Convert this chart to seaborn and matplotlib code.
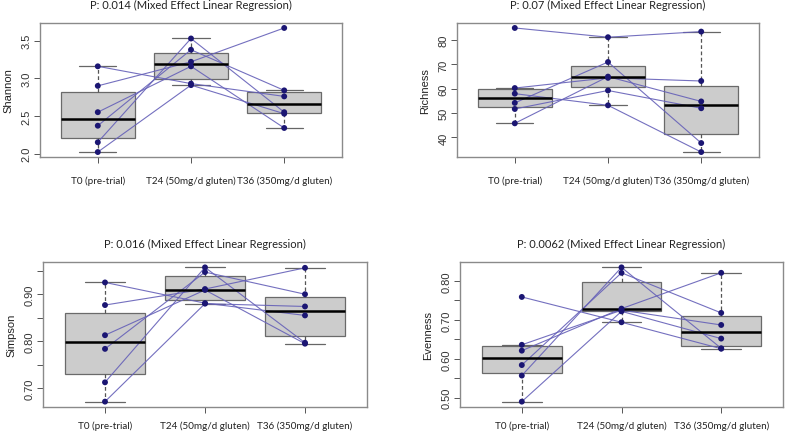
import numpy as np
import pandas as pd

import matplotlib.pyplot as plt
import matplotlib.transforms as mtransforms
import seaborn as sns

# values per subject at T0, T24, T36
times = ["T0 (pre-trial)", "T24 (50mg/d gluten)", "T36 (350mg/d gluten)"]
subjects = ["s1", "s2", "s3", "s4", "s5", "s6"]

shannon_t0 = [3.16, 2.90, 2.55, 2.37, 2.15, 2.02]
shannon_t24 = [2.93, 3.22, 3.16, 3.38, 3.53, 2.91]
shannon_t36 = [2.76, 3.67, 2.34, 2.84, 2.55, 2.53]

richness_t0 = [85.0, 60.3, 58.0, 54.2, 51.7, 45.8]
richness_t24 = [81.2, 64.5, 53.2, 71.0, 59.3, 65.0]
richness_t36 = [83.5, 63.2, 34.0, 37.7, 52.0, 54.8]

simpson_t0 = [0.925, 0.877, 0.813, 0.784, 0.713, 0.672]
simpson_t24 = [0.881, 0.911, 0.909, 0.947, 0.957, 0.880]
simpson_t36 = [0.855, 0.956, 0.795, 0.900, 0.797, 0.874]

evenness_t0 = [0.759, 0.636, 0.621, 0.584, 0.557, 0.490]
evenness_t24 = [0.694, 0.725, 0.729, 0.821, 0.835, 0.722]
evenness_t36 = [0.626, 0.687, 0.821, 0.718, 0.627, 0.652]

titles = ["P: 0.014 (Mixed Effect Linear Regression)",
          "P: 0.07 (Mixed Effect Linear Regression)",
          "P: 0.016 (Mixed Effect Linear Regression)",
          "P: 0.0062 (Mixed Effect Linear Regression)"]
ylabels = ["Shannon", "Richness", "Simpson", "Evenness"]
series = [(shannon_t0, shannon_t24, shannon_t36),
          (richness_t0, richness_t24, richness_t36),
          (simpson_t0, simpson_t24, simpson_t36),
          (evenness_t0, evenness_t24, evenness_t36)]

yticks = [[2.0, 2.5, 3.0, 3.5],
          [40, 50, 60, 70, 80],
          [0.70, 0.75, 0.80, 0.85, 0.90, 0.95],
          [0.50, 0.55, 0.60, 0.65, 0.70, 0.75, 0.80]]
ytick_labels = [["2.0", "2.5", "3.0", "3.5"],
                ["40", "50", "60", "70", "80"],
                ["0.70", "", "0.80", "", "0.90", ""],
                ["0.50", "", "0.60", "", "0.70", "", "0.80"]]

# axes boxes in figure pixels: left, top, right, bottom
W, H = 787, 435
boxes = [(40, 24, 342, 158), (457, 24, 759, 158),
         (43, 263, 367, 408), (460, 263, 783, 408)]
label_shift = [-12, -10, -8]  # px, x labels sit a bit left of their ticks
xlabel_pad = [9, 9, 6, 6]

sns.set_theme(style="white")
plt.rcParams["font.family"] = ["Liberation Sans", "DejaVu Sans"]

fig = plt.figure(figsize=(W / 100, H / 100), dpi=100)

for i in range(4):
    l, t, r, b = boxes[i]
    ax = fig.add_axes([l / W, 1 - b / H, (r - l) / W, (b - t) / H])

    rows = []
    for k, vals in enumerate(series[i]):
        for s, v in zip(subjects, vals):
            rows.append({"subject": s, "time": times[k], "pos": k, "value": v})
    df = pd.DataFrame(rows)

    sns.boxplot(data=df, x="time", y="value", order=times, ax=ax,
                width=0.8, whis=1.5, showfliers=False,
                color="#cfcfcf", linewidth=0.9, linecolor="#555555",
                boxprops={"facecolor": "#cccccc", "edgecolor": "#6a6a6a"},
                whiskerprops={"linestyle": (0, (3, 2)), "color": "#555555"},
                capprops={"color": "#666666"},
                medianprops={"color": "black", "linewidth": 1.8})

    sns.lineplot(data=df, x="pos", y="value", units="subject", estimator=None,
                 color="#6560b8", alpha=0.9, linewidth=0.8, ax=ax, legend=False)
    sns.scatterplot(data=df, x="pos", y="value", color="#1b1673", s=18,
                    edgecolor="none", zorder=5, ax=ax, legend=False)

    lo, hi = df["value"].min(), df["value"].max()
    pad = (hi - lo) * 0.04
    ax.set_ylim(lo - pad, hi + pad)
    ax.set_xlim(-0.62, 2.62)

    ax.set_yticks(yticks[i])
    ax.set_yticklabels(ytick_labels[i], rotation=90, va="center", fontsize=8,
                       color="#333333")
    ax.set_xticks([0, 1, 2])
    ax.set_xticklabels(times, fontsize=7.1, family=["Lato", "DejaVu Sans"],
                       color="#222222")
    for lab, dx in zip(ax.get_xticklabels(), label_shift):
        off = mtransforms.ScaledTranslation(dx / 100, 0, fig.dpi_scale_trans)
        lab.set_transform(lab.get_transform() + off)
    ax.tick_params(axis="both", direction="out", length=4, width=0.7,
                   color="#555555", left=True, bottom=True)
    ax.tick_params(axis="x", pad=xlabel_pad[i])
    ax.tick_params(axis="y", pad=2)

    ax.set_xlabel("")
    ax.set_ylabel(ylabels[i], fontsize=8, color="#222222", labelpad=6)
    ax.set_title(titles[i], fontsize=8, family=["Lato", "DejaVu Sans"],
                 color="#222222", pad=11)
    for sp in ax.spines.values():
        sp.set_color("#8a8a8a")
        sp.set_linewidth(1.0)

fig.savefig("out.png", dpi=100)
